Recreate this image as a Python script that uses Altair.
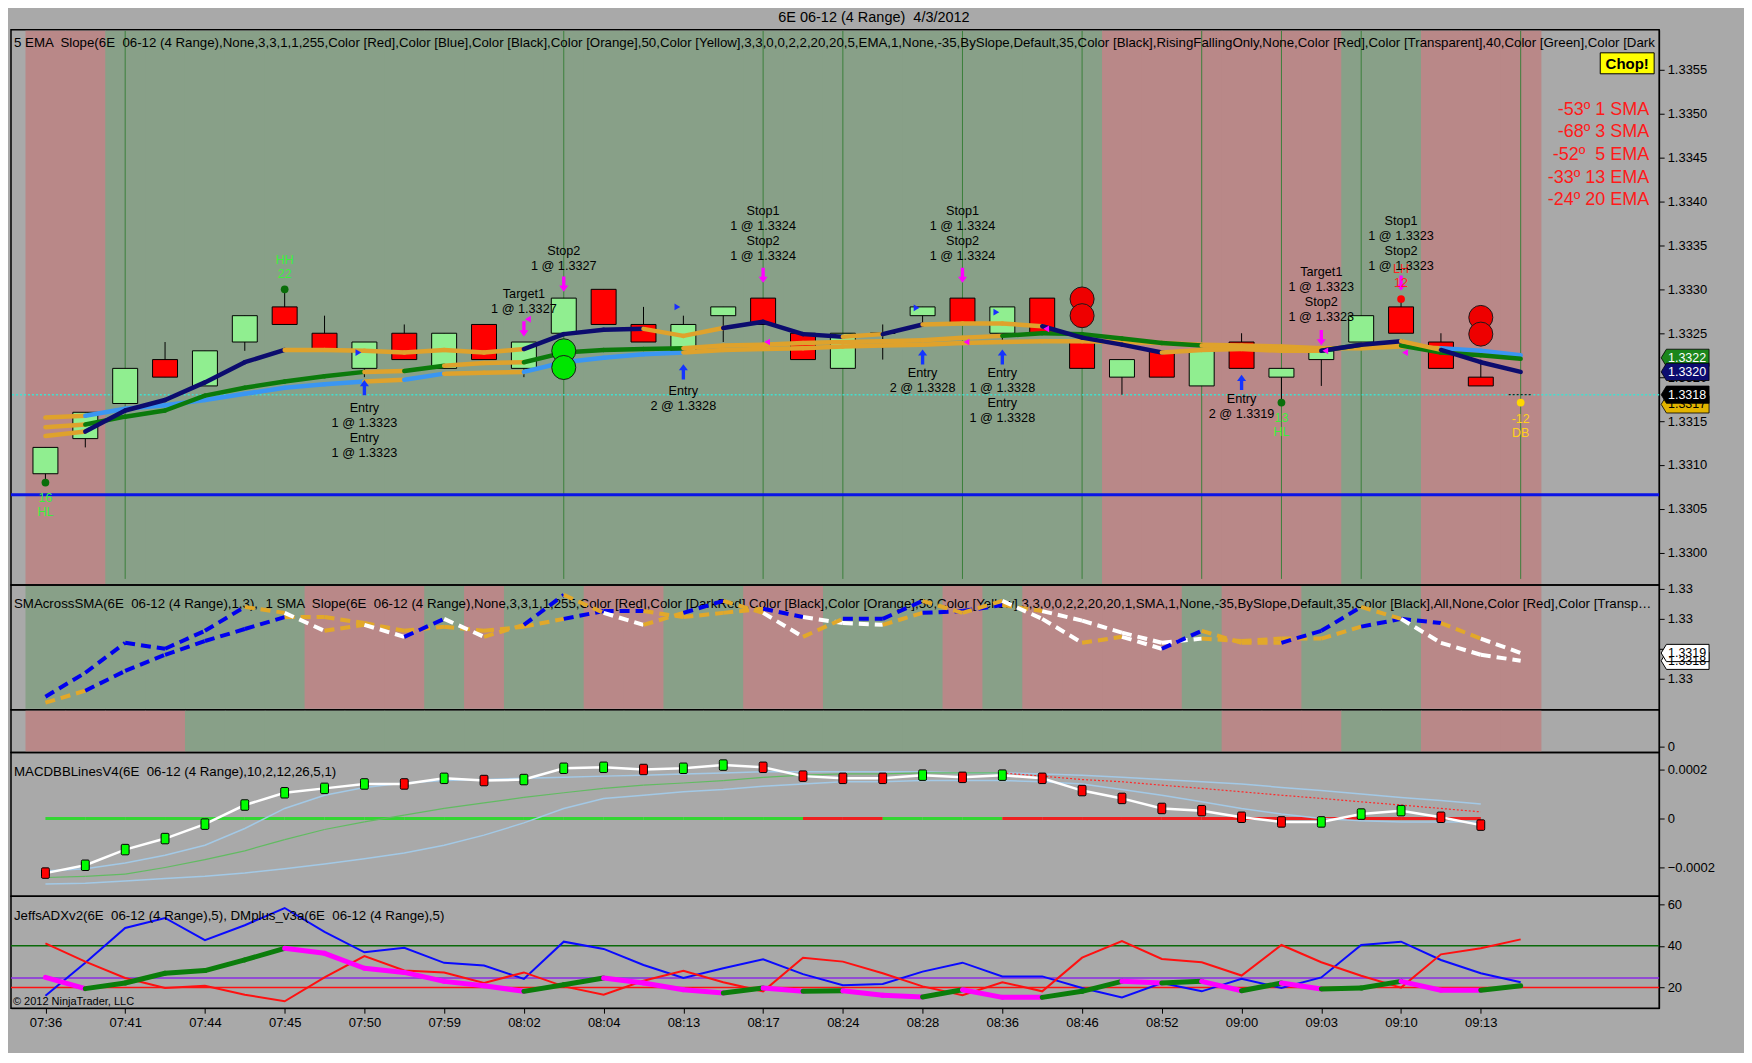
import altair as alt
import pandas as pd

FONT = "Liberation Sans"
NB = "\u00a0"


def keep_spaces(s):
    return s.replace("  ", " " + NB)


TITLE = "6E 06-12 (4 Range)  4/3/2012"

TIME_LABELS = ["07:36", "07:41", "07:44", "07:45", "07:50", "07:59", "08:02", "08:04",
               "08:13", "08:17", "08:24", "08:28", "08:36", "08:46", "08:52", "09:00",
               "09:03", "09:10", "09:13"]

# panel captions, as far as they are visible inside the panels
HEADER_PRICE = ("5 EMA  Slope(6E  06-12 (4 Range),None,3,3,1,1,255,Color [Red],Color [Blue],Color [Black],"
                "Color [Orange],50,Color [Yellow],3,3,0,0,2,2,20,20,5,EMA,1,None,-35,BySlope,Default,35,"
                "Color [Black],RisingFallingOnly,None,Color [Red],Color [Transparent],40,Color [Green],Color [Dark")
HEADER_SMA = ("SMAcrossSMA(6E  06-12 (4 Range),1,3),  1 SMA  Slope(6E  06-12 (4 Range),None,3,3,1,1,255,"
              "Color [Red],Color [DarkRed],Color [Black],Color [Orange],50,Color [Yellow],3,3,0,0,2,2,20,20,1,SMA,1,"
              "None,-35,BySlope,Default,35,Color [Black],All,None,Color [Red],Color [Transparent")
HEADER_MACD = "MACDBBLinesV4(6E  06-12 (4 Range),10,2,12,26,5,1)"
HEADER_ADX = "JeffsADXv2(6E  06-12 (4 Range),5), DMplus_v3a(6E  06-12 (4 Range),5)"
COPYRIGHT = "© 2012 NinjaTrader, LLC"

# ---------------- price candles (bars 0..36) ----------------
OPEN = [1.3309, 1.3313, 1.3317, 1.3322, 1.3319, 1.3324, 1.3328, 1.3325, 1.3321, 1.3325,
        1.3321, 1.3326, 1.3321, 1.3325, 1.3330, 1.3326, 1.3323, 1.3327, 1.3329, 1.3325,
        1.3321, 1.3325, 1.3327, 1.3329, 1.3325, 1.3329, 1.3324, 1.3320, 1.3323, 1.3319,
        1.3324, 1.3320, 1.3322, 1.3324, 1.3328, 1.3324, 1.3320]
HIGH = [1.3312, 1.3316, 1.3321, 1.3324, 1.3323, 1.3327, 1.3330, 1.3327, 1.3324, 1.3326,
        1.3325, 1.3326, 1.3324, 1.3329, 1.3330, 1.3328, 1.3327, 1.3328, 1.3329, 1.3325,
        1.3325, 1.3326, 1.3328, 1.3329, 1.3328, 1.3329, 1.3324, 1.3322, 1.3323, 1.3323,
        1.3325, 1.3321, 1.3323, 1.3327, 1.3329, 1.3325, 1.3322]
LOW = [1.3308, 1.3312, 1.3317, 1.3320, 1.3319, 1.3323, 1.3326, 1.3323, 1.3320, 1.3322,
       1.3321, 1.3322, 1.3320, 1.3325, 1.3326, 1.3324, 1.3323, 1.3324, 1.3326, 1.3322,
       1.3321, 1.3322, 1.3326, 1.3326, 1.3324, 1.3325, 1.3321, 1.3318, 1.3320, 1.3319,
       1.3321, 1.3317, 1.3319, 1.3324, 1.3325, 1.3321, 1.3319]
CLOSE = [1.3312, 1.3316, 1.3321, 1.3320, 1.3323, 1.3327, 1.3326, 1.3323, 1.3324, 1.3322,
         1.3325, 1.3322, 1.3324, 1.3329, 1.3326, 1.3324, 1.3326, 1.3328, 1.3326, 1.3322,
         1.3325, 1.3325, 1.3328, 1.3326, 1.3328, 1.3325, 1.3321, 1.3322, 1.3320, 1.3323,
         1.3321, 1.3321, 1.3323, 1.3327, 1.3325, 1.3321, 1.3319]
LAST_BAR = 37
LAST_PRICE = 1.3318
BLUE_LEVEL = 1.33066

# moving averages on price panel (bars 0..37) with per-segment slope state
EMA5 = [1.33133, 1.33138, 1.33162, 1.33174, 1.33194, 1.33217, 1.33231, 1.33231, 1.33230, 1.33228,
        1.33231, 1.33228, 1.33232, 1.33249, 1.33254, 1.33255, 1.33247, 1.33256, 1.33263, 1.33249,
        1.33246, 1.33249, 1.33260, 1.33261, 1.33261, 1.33258, 1.33245, 1.33237, 1.33228, 1.33231,
        1.33232, 1.33230, 1.33230, 1.33237, 1.33241, 1.33231, 1.33217, 1.33206]
EMA5_STATE = "onnnnnoooooonnnoonnnonooonnnoooonnonn"
EMA13 = [1.33143, 1.33146, 1.33155, 1.33162, 1.33179, 1.33188, 1.33195, 1.33201, 1.33206, 1.33207,
         1.33213, 1.33216, 1.33217, 1.33228, 1.33231, 1.33232, 1.33233, 1.33236, 1.33237, 1.33239,
         1.33240, 1.33241, 1.33242, 1.33245, 1.33247, 1.33250, 1.33249, 1.33244, 1.33239, 1.33236,
         1.33235, 1.33232, 1.33230, 1.33237, 1.33236, 1.33228, 1.33225, 1.33221]
EMA13_STATE = "o" + "ggggggg" + "o" + "g" + "oo" + "gggg" + "oooooooo" + "ggggg" + "ooo" + "g" + "o" + "ggg"
EMA20 = [1.33154, 1.33156, 1.33164, 1.33168, 1.33174, 1.33181, 1.33188, 1.33192, 1.33195, 1.33197,
         1.33204, 1.33205, 1.33206, 1.33217, 1.33222, 1.33226, 1.33228, 1.33231, 1.33232, 1.33233,
         1.33235, 1.33236, 1.33237, 1.33239, 1.33240, 1.33241, 1.33241, 1.33240, 1.33239, 1.33237,
         1.33236, 1.33235, 1.33233, 1.33233, 1.33235, 1.33233, 1.33230, 1.33225]
EMA20_STATE = "o" + "bbbbbbb" + "o" + "b" + "oo" + "bbbb" + "o" * 19 + "bb"

BAND_PRICE = "RR" + "G" * 25 + "R" * 6 + "GG" + "RRR"
BAND_SMA = "GGGGGGG" + "RRR" + "G" + "R" + "GG" + "RR" + "GG" + "RR" + "GGG" + "R" + "G" + "RRRR" + "G" + "RR" + "GGG" + "RRR"
BAND_CROSS = "RRRR" + "G" * 26 + "RRR" + "GG" + "RRR"
VLINE_BARS = [2, 13, 18, 20, 23, 26, 29, 31, 33, 37]

# trade annotations: (bar, price of top line, text)
TRADE_NOTES = [
    (8, 1.33172, "Entry\n1 @ 1.3323\nEntry\n1 @ 1.3323"),
    (12, 1.33302, "Target1\n1 @ 1.3327"),
    (13, 1.33351, "Stop2\n1 @ 1.3327"),
    (16, 1.33191, "Entry\n2 @ 1.3328"),
    (18, 1.33396, "Stop1\n1 @ 1.3324\nStop2\n1 @ 1.3324"),
    (22, 1.33212, "Entry\n2 @ 1.3328"),
    (23, 1.33396, "Stop1\n1 @ 1.3324\nStop2\n1 @ 1.3324"),
    (24, 1.33212, "Entry\n1 @ 1.3328\nEntry\n1 @ 1.3328"),
    (30, 1.33182, "Entry\n2 @ 1.3319"),
    (32, 1.33326, "Target1\n1 @ 1.3323\nStop2\n1 @ 1.3323"),
    (34, 1.33385, "Stop1\n1 @ 1.3323\nStop2\n1 @ 1.3323"),
]
ENTRY_ARROWS = [(8, 1.33188), (16, 1.33206), (22, 1.33223), (24, 1.33223), (30, 1.33194)]
EXIT_ARROWS = [(12, 1.33255), (13, 1.33306), (18, 1.33316), (23, 1.33316), (32, 1.33245), (34, 1.33307)]
ENTRY_TICKS = [(8, 1.33228), (16, 1.33280), (22, 1.33279), (24, 1.33274)]
EXIT_TICKS = [(12, 1.33266), (18, 1.33240), (23, 1.33240), (25, 1.33255), (32, 1.33230), (34, 1.33228)]
SWING_DOTS = [(0, 1.33080, "hl"), (6, 1.33300, "hh"), (31, 1.33171, "hl"), (34, 1.33289, "lh"), (37, 1.33171, "db")]
SWING_TEXT = [(0, 1.33069, "16\nHL", "hl"), (6, 1.33340, "HH\n22", "hh"), (31, 1.33160, "13\nHL", "hl"),
              (34, 1.33330, "LH\n12", "lh"), (37, 1.33159, "-12\nDB", "db")]
BIG_DOTS = [(13, 1.33230, "up"), (13, 1.33211, "up"), (26, 1.33289, "dn"), (26, 1.33270, "dn"),
            (36, 1.33268, "dn"), (36, 1.33249, "dn")]
ANGLE_TEXT = "-53º 1 SMA\n-68º 3 SMA\n-52º  5 EMA\n-33º 13 EMA\n-24º 20 EMA"
PRICE_MARKERS = [(1.33169, "1.3317", "#e2b400", "black"), (1.33222, "1.3322", "#1b861b", "white"),
                 (1.33206, "1.3320", "#0c0c70", "white"), (1.33180, "1.3318", "#000000", "white")]

# ---------------- SMA cross panel ----------------
SMA1 = [1.3312, 1.3316, 1.3321, 1.3320, 1.3323, 1.3327, 1.3326, 1.3323, 1.3324, 1.3322,
        1.3325, 1.3322, 1.3324, 1.3329, 1.3326, 1.3324, 1.3326, 1.3328, 1.3326, 1.3322,
        1.3325, 1.3325, 1.3328, 1.3326, 1.3328, 1.3325, 1.3321, 1.3322, 1.3320, 1.3323,
        1.3321, 1.3321, 1.3323, 1.3327, 1.3325, 1.3321, 1.3319, 1.3318]
SMA1_STATE = "bbbbbowowbwobowobowobboowwowboobbowww"
SMA3 = [1.33110, 1.33130, 1.33163, 1.33190, 1.33213, 1.33233, 1.33253, 1.33253, 1.33243, 1.33230,
        1.33237, 1.33230, 1.33237, 1.33250, 1.33263, 1.33263, 1.33253, 1.33260, 1.33267, 1.33253,
        1.33243, 1.33240, 1.33260, 1.33263, 1.33273, 1.33263, 1.33247, 1.33227, 1.33210, 1.33217,
        1.33213, 1.33217, 1.33217, 1.33237, 1.33250, 1.33243, 1.33217, 1.33193]
SMA3_STATE = "obbbbbooooooobbooobwwobbowwwwoooobboww"[:37]
SMA_MARKERS = [(1.33180, "1.3318"), (1.33193, "1.3319")]

# ---------------- MACD panel (bars 0..36) ----------------
MACD = [-0.000223, -0.000191, -0.000127, -0.000082, -0.000023, 0.000055, 0.000105, 0.000123, 0.000141, 0.000141,
        0.000164, 0.000155, 0.000159, 0.000205, 0.000209, 0.000200, 0.000205, 0.000218, 0.000209, 0.000173,
        0.000164, 0.000164, 0.000177, 0.000168, 0.000177, 0.000164, 0.000114, 0.000082, 0.000041, 0.000032,
        0.000005, -0.000014, -0.000014, 0.000018, 0.000032, 0.000005, -0.000027]
MACD_DOT = "rgggggggg" + "rgrggg" + "rggrrrr" + "grgrrrrrrr" + "gggrr"
BB_UPPER = [-0.000214, -0.000205, -0.000182, -0.000150, -0.000109, -0.000041, 0.000041, 0.000095, 0.000127, 0.000145,
            0.000155, 0.000159, 0.000164, 0.000168, 0.000173, 0.000177, 0.000182, 0.000186, 0.000191, 0.000191,
            0.000191, 0.000191, 0.000191, 0.000186, 0.000186, 0.000182, 0.000177, 0.000168, 0.000159, 0.000150,
            0.000141, 0.000127, 0.000114, 0.000100, 0.000086, 0.000073, 0.000059]
BB_LOWER = [-0.000268, -0.000264, -0.000255, -0.000245, -0.000236, -0.000223, -0.000205, -0.000186, -0.000164, -0.000141,
            -0.000109, -0.000068, -0.000018, 0.000041, 0.000082, 0.000095, 0.000109, 0.000118, 0.000132, 0.000141,
            0.000150, 0.000150, 0.000155, 0.000155, 0.000155, 0.000150, 0.000141, 0.000118, 0.000095, 0.000068,
            0.000041, 0.000018, 0.000000, -0.000009, -0.000014, -0.000014, -0.000014]
SIGNAL = [-0.000241, -0.000236, -0.000227, -0.000200, -0.000168, -0.000132, -0.000086, -0.000045, -0.000014, 0.000014,
          0.000041, 0.000064, 0.000086, 0.000105, 0.000123, 0.000136, 0.000145, 0.000155, 0.000168, 0.000177,
          0.000182, 0.000182, 0.000186, 0.000186, 0.000186, 0.000173, 0.000159, 0.000150, 0.000136, 0.000123,
          0.000109, 0.000095, 0.000082, 0.000068, 0.000055, 0.000041, 0.000027]
SIGNAL_STATE = "g" * 24 + "r" * 12
ZERO_STATE = "g" * 19 + "rr" + "ggg" + "r" * 12

# ---------------- ADX panel (bars 0..37) ----------------
ADX_BLUE = [16.0, 31.9, 48.6, 53.4, 42.7, 49.9, 58.2, 46.7, 36.9, 39.1, 31.8, 30.5, 24.1, 42.0, 38.5, 30.8,
            24.5, 29.2, 33.5, 26.4, 21.0, 21.6, 27.6, 31.9, 25.3, 25.3, 19.7, 15.2, 22.1, 18.1, 24.1, 19.7,
            24.8, 40.4, 42.0, 33.2, 26.8, 22.5]
ADX_RED = [41.2, 32.4, 24.5, 19.7, 20.8, 16.5, 13.3, 24.8, 35.1, 28.1, 27.2, 22.1, 27.2, 20.5, 16.5, 23.2,
           28.0, 22.5, 18.1, 34.3, 32.4, 26.8, 20.5, 16.2, 22.5, 18.1, 34.3, 42.3, 33.7, 32.1, 25.7, 40.4,
           32.1, 25.6, 19.9, 35.9, 38.8, 43.1]
DMPLUS = [24.8, 19.4, 22.1, 26.8, 28.1, 33.2, 38.8, 36.4, 29.2, 27.2, 22.9, 20.8, 18.1, 21.3, 24.5, 22.1,
          18.9, 17.3, 19.7, 18.1, 18.4, 16.2, 15.4, 18.9, 15.2, 15.2, 18.1, 22.9, 22.1, 22.9, 18.4, 22.1,
          19.2, 19.7, 22.9, 18.6, 18.6, 20.8]
DMPLUS_STATE = "mgggggmmmmmmggmmmgmgmmgmmggmgmgmggmmg"
ADX_LEVELS = [(40, "#0a6a0a"), (24.5, "#8a2be2"), (20, "#ff1010")]

# ---------------- layout ----------------
W = 1651
H1, H2, H3, H4, H5 = 556, 125, 43, 144, 112
XDOM = [-0.8638, 40.473]
D1 = [1.329634, 1.335955]
D2 = [1.330983, 1.333067]
D3 = [-0.163, 1.0]
D4 = [-0.000318, 0.000269]
D5 = [10.0, 63.8]

BAND_COL = {"R": "#b98888", "G": "#88a088"}
MA_COL = {"o": "#dfa22c", "n": "#0c0c6e", "g": "#0b7a0b", "b": "#3a96f2"}
SMA_COL = {"b": "#0000ee", "w": "#ffffff", "o": "#e2a82a"}
DM_COL = {"m": "#ff00ff", "g": "#0b7d0b"}
SWING_COL = {"hl": "#3cf03c", "hh": "#3cf03c", "lh": "#ff2020", "db": "#ffd21a"}
SWING_DOT_COL = {"hl": "#0a6e0a", "hh": "#0a6e0a", "lh": "#ff0000", "db": "#ffd700"}

xs = alt.Scale(domain=XDOM, nice=False, zero=False, padding=0)
XAXIS = alt.Axis(orient="bottom", values=list(range(0, 37, 2)),
                 labelExpr="[" + ",".join("'%s'" % t for t in TIME_LABELS) + "][round(datum.value/2)]",
                 tickSize=5, tickColor="black", domainColor="black", labelColor="black", labelFont=FONT,
                 labelFontSize=13, labelPadding=3, grid=False, title=None, labelFlush=False, labelOverlap=False)


def yaxis(values, fmt=None, expr=None):
    kw = dict(orient="right", values=values, tickSize=5, tickColor="black", domainColor="black",
              labelColor="black", labelFont=FONT, labelFontSize=13, labelPadding=3, grid=False, title=None,
              labelFlush=False, labelOverlap=False, zindex=0)
    if fmt:
        kw["format"] = fmt
    if expr:
        kw["labelExpr"] = expr
    return alt.Axis(**kw)


AX1 = yaxis([round(1.3300 + 0.0005 * i, 4) for i in range(12)], fmt=".4f")
AX2 = yaxis([1.3315, 1.3320, 1.3325, 1.3330], fmt=".2f")
AX3 = yaxis([0], fmt="d")
AX4 = yaxis([-0.0002, 0, 0.0002], expr="datum.value == 0 ? '0' : format(datum.value, '.4f')")
AX5 = yaxis([20, 40, 60], fmt="d")


def mkX(field="bar", axis=None):
    return alt.X(f"{field}:Q", scale=xs, axis=axis)


def mkY(field, dom, ax):
    return alt.Y(f"{field}:Q", scale=alt.Scale(domain=dom, nice=False, zero=False, padding=0), axis=ax)


def band_layer(states, h):
    df = pd.DataFrame({"bar": list(range(len(states))), "col": [BAND_COL[s] for s in states]})
    return alt.Chart(df).transform_calculate(x0="datum.bar - 0.5", x1="datum.bar + 0.52").mark_rect(
        strokeWidth=0).encode(x=mkX("x0"), x2="x1:Q", y=alt.value(1), y2=alt.value(h - 1),
                              color=alt.Color("col:N", scale=None))


def seg_frame(values, states, cmap, name):
    rows = []
    for i, s in enumerate(states):
        for j in (i, i + 1):
            rows.append({"bar": j, "v": values[j], "seg": f"{name}{i:02d}", "col": cmap[s], "st": s})
    return pd.DataFrame(rows)


def header(text, y):
    return alt.Chart(pd.DataFrame({"t": [keep_spaces(text)]})).mark_text(
        align="left", baseline="middle", font=FONT, fontSize=13.3, color="black", clip=True,
        limit=W - 4, ellipsis="").encode(text="t:N", x=alt.value(3), y=alt.value(y))


ARROW_UP = "M0,-1L0.6,-0.2L0.22,-0.2L0.22,1L-0.22,1L-0.22,-0.2L-0.6,-0.2Z"
ARROW_DN = "M0,1L0.6,0.2L0.22,0.2L0.22,-1L-0.22,-1L-0.22,0.2L-0.6,0.2Z"
FLAG = "M-1,0L-0.78,-0.36L1,-0.36L1,0.36L-0.78,0.36Z"
PILL = "M-0.55,-1L0.55,-1Q0.75,-1 0.75,-0.7L0.75,0.7Q0.75,1 0.55,1L-0.55,1Q-0.75,1 -0.75,0.7L-0.75,-0.7Q-0.75,-1 -0.55,-1Z"

# ======== Panel 1: price ========
Y1 = lambda f: mkY(f, D1, AX1)
cdf = pd.DataFrame({"bar": list(range(len(OPEN))), "o": OPEN, "h": HIGH, "l": LOW, "c": CLOSE})
cdf["col"] = ["#90ee90" if c >= o else "#ff0000" for o, c in zip(OPEN, CLOSE)]

p1_layers = [band_layer(BAND_PRICE, H1)]
p1_layers.append(alt.Chart(pd.DataFrame({"bar": VLINE_BARS})).mark_rule(color="#3b7f3b", strokeWidth=1).encode(
    x=mkX(), y=alt.value(1), y2=alt.value(H1 - 6)))
p1_layers.append(alt.Chart(pd.DataFrame({"p": [BLUE_LEVEL]})).mark_rule(color="#0a14e6", strokeWidth=3).encode(
    y=Y1("p")))
p1_layers.append(alt.Chart(pd.DataFrame({"p": [LAST_PRICE]})).mark_rule(
    color="#40e0d0", strokeWidth=1.5, strokeDash=[2, 2]).encode(y=Y1("p")))
p1_layers.append(header(HEADER_PRICE, 13))
p1_layers.append(alt.Chart(cdf).mark_rule(color="black", strokeWidth=1).encode(x=mkX(), y=Y1("l"), y2="h:Q"))
p1_layers.append(alt.Chart(cdf).mark_bar(width=25, stroke="black", strokeWidth=1).encode(
    x=mkX(), y=Y1("o"), y2="c:Q", color=alt.Color("col:N", scale=None)))
p1_layers.append(alt.Chart(pd.DataFrame({"bar": [LAST_BAR], "p": [LAST_PRICE]})).transform_calculate(
    x0="datum.bar - 0.3", x1="datum.bar + 0.3").mark_rule(color="black", strokeWidth=1, strokeDash=[2, 2]).encode(
    x=mkX("x0"), x2="x1:Q", y=Y1("p")))
for vals, st, nm in [(EMA20, EMA20_STATE, "b"), (EMA13, EMA13_STATE, "g"), (EMA5, EMA5_STATE, "n")]:
    p1_layers.append(alt.Chart(seg_frame(vals, st, MA_COL, nm)).mark_line(strokeWidth=4.5, strokeCap="round").encode(
        x=mkX(), y=Y1("v"), detail="seg:N", color=alt.Color("col:N", scale=None)))
bdf = pd.DataFrame(BIG_DOTS, columns=["bar", "p", "k"])
bdf["col"] = ["#00e600" if k == "up" else "#ee0000" for k in bdf["k"]]
p1_layers.append(alt.Chart(bdf).mark_point(shape="circle", filled=True, size=580, opacity=1, stroke="#1a1a1a",
                                           strokeWidth=1).encode(x=mkX(), y=Y1("p"),
                                                                 color=alt.Color("col:N", scale=None)))
p1_layers.append(alt.Chart(pd.DataFrame(ENTRY_ARROWS, columns=["bar", "p"])).mark_point(
    shape=ARROW_UP, filled=True, size=230, color="#1434ff", opacity=1).encode(x=mkX(), y=Y1("p")))
p1_layers.append(alt.Chart(pd.DataFrame(EXIT_ARROWS, columns=["bar", "p"])).mark_point(
    shape=ARROW_DN, filled=True, size=230, color="#ff00ff", opacity=1).encode(x=mkX(), y=Y1("p")))
p1_layers.append(alt.Chart(pd.DataFrame(ENTRY_TICKS, columns=["bar", "p"])).mark_point(
    shape="triangle-right", filled=True, size=45, color="#1a2cff", opacity=1, xOffset=-6).encode(x=mkX(), y=Y1("p")))
p1_layers.append(alt.Chart(pd.DataFrame(EXIT_TICKS, columns=["bar", "p"])).mark_point(
    shape="triangle-left", filled=True, size=45, color="#ff00ff", opacity=1, xOffset=4).encode(x=mkX(), y=Y1("p")))
sdf = pd.DataFrame(SWING_DOTS, columns=["bar", "p", "k"])
sdf["col"] = [SWING_DOT_COL[k] for k in sdf["k"]]
p1_layers.append(alt.Chart(sdf).mark_point(shape="circle", filled=True, size=60, opacity=1).encode(
    x=mkX(), y=Y1("p"), color=alt.Color("col:N", scale=None)))
stdf = pd.DataFrame(SWING_TEXT, columns=["bar", "p", "t", "k"])
stdf["col"] = [SWING_COL[k] for k in stdf["k"]]
p1_layers.append(alt.Chart(stdf).mark_text(font=FONT, fontSize=12.5, baseline="top", align="center",
                                           lineBreak="\n", lineHeight=14).encode(
    x=mkX(), y=Y1("p"), text="t:N", color=alt.Color("col:N", scale=None)))
p1_layers.append(alt.Chart(pd.DataFrame(TRADE_NOTES, columns=["bar", "p", "t"])).mark_text(
    font=FONT, fontSize=12.7, baseline="top", align="center", lineBreak="\n", lineHeight=15, color="black").encode(
    x=mkX(), y=Y1("p"), text="t:N"))
p1_layers.append(alt.Chart(pd.DataFrame({"t": [keep_spaces(ANGLE_TEXT)]})).mark_text(
    font=FONT, fontSize=18, baseline="top", align="right", lineBreak="\n", lineHeight=22.7, color="#ff1a1a").encode(
    text="t:N", x=alt.value(W - 10), y=alt.value(71)))
p1_layers.append(alt.Chart(pd.DataFrame({"t": ["Chop!"]})).mark_rect(fill="#ffff00", stroke="black",
                                                                      strokeWidth=1).encode(
    x=alt.value(W - 59), x2=alt.value(W - 5), y=alt.value(23), y2=alt.value(44)))
p1_layers.append(alt.Chart(pd.DataFrame({"t": ["Chop!"]})).mark_text(
    font=FONT, fontSize=15, fontWeight="bold", color="black", baseline="middle", align="center").encode(
    text="t:N", x=alt.value(W - 32), y=alt.value(34)))
mdf = pd.DataFrame(PRICE_MARKERS, columns=["p", "t", "fill", "tc"])
p1_layers.append(alt.Chart(mdf).mark_point(shape=FLAG, filled=True, size=2304, opacity=1, stroke="black",
                                           strokeWidth=0.8).encode(
    x=alt.value(W + 26), y=Y1("p"), color=alt.Color("fill:N", scale=None)))
p1_layers.append(alt.Chart(mdf).mark_text(font=FONT, fontSize=12.5, baseline="middle", align="center").encode(
    x=alt.value(W + 28), y=Y1("p"), text="t:N", color=alt.Color("tc:N", scale=None)))
panel1 = alt.layer(*p1_layers).properties(width=W, height=H1)

# ======== Panel 2: SMA cross ========
Y2 = lambda f: mkY(f, D2, AX2)
p2_layers = [band_layer(BAND_SMA, H2), header(HEADER_SMA, 19)]
for vals, st, nm in [(SMA3, SMA3_STATE, "s3"), (SMA1, SMA1_STATE, "s1")]:
    p2_layers.append(alt.Chart(seg_frame(vals, st, SMA_COL, nm)).mark_line(
        strokeWidth=4, strokeDash=[10, 6], strokeCap="butt").encode(
        x=mkX(), y=Y2("v"), detail="seg:N", color=alt.Color("col:N", scale=None)))
smdf = pd.DataFrame(SMA_MARKERS, columns=["p", "t"])
p2_layers.append(alt.Chart(smdf).mark_point(shape=FLAG, filled=True, size=2304, opacity=1, color="white",
                                            stroke="black", strokeWidth=1).encode(x=alt.value(W + 26), y=Y2("p")))
p2_layers.append(alt.Chart(smdf).mark_text(font=FONT, fontSize=12.5, baseline="middle", align="center",
                                           color="black").encode(x=alt.value(W + 28), y=Y2("p"), text="t:N"))
panel2 = alt.layer(*p2_layers).properties(width=W, height=H2)

# ======== Panel 3: cross state ========
Y3 = lambda f: mkY(f, D3, AX3)
p3_layers = [band_layer(BAND_CROSS, H3),
             alt.Chart(pd.DataFrame({"bar": [0], "v": [0]})).mark_point(opacity=0).encode(x=mkX(), y=Y3("v"))]
panel3 = alt.layer(*p3_layers).properties(width=W, height=H3)

# ======== Panel 4: MACD ========
Y4 = lambda f: mkY(f, D4, AX4)
zdf = seg_frame([0.0] * 37, ZERO_STATE, {"g": "#33d633", "r": "#ee2020"}, "z")
sig = seg_frame(SIGNAL, SIGNAL_STATE, {"g": "#62bb62", "r": "#ff2a2a"}, "sg")
bbdf = pd.concat([pd.DataFrame({"bar": list(range(37)), "v": BB_UPPER, "k": "u"}),
                  pd.DataFrame({"bar": list(range(37)), "v": BB_LOWER, "k": "l"})])
macd_df = pd.DataFrame({"bar": list(range(37)), "v": MACD,
                        "col": ["#00ff00" if s == "g" else "#ff0000" for s in MACD_DOT]})
p4_layers = [
    alt.Chart(zdf).mark_line(strokeWidth=3).encode(x=mkX(), y=Y4("v"), detail="seg:N",
                                                   color=alt.Color("col:N", scale=None)),
    alt.Chart(bbdf).mark_line(strokeWidth=1.5, color="#a3c9e6").encode(x=mkX(), y=Y4("v"), detail="k:N"),
    alt.Chart(sig).transform_filter("datum.st == 'g'").mark_line(strokeWidth=1.2).encode(
        x=mkX(), y=Y4("v"), detail="seg:N", color=alt.Color("col:N", scale=None)),
    alt.Chart(sig).transform_filter("datum.st == 'r'").mark_line(strokeWidth=1.2, strokeDash=[2, 2]).encode(
        x=mkX(), y=Y4("v"), detail="seg:N", color=alt.Color("col:N", scale=None)),
    alt.Chart(macd_df).mark_line(strokeWidth=2.5, color="white").encode(x=mkX(), y=Y4("v")),
    alt.Chart(macd_df).mark_point(shape=PILL, filled=True, size=110, opacity=1, stroke="black",
                                  strokeWidth=1).encode(x=mkX(), y=Y4("v"), color=alt.Color("col:N", scale=None)),
    header(HEADER_MACD, 19),
]
panel4 = alt.layer(*p4_layers).properties(width=W, height=H4)

# ======== Panel 5: ADX ========
Y5 = lambda f: mkY(f, D5, AX5)
lv = pd.DataFrame(ADX_LEVELS, columns=["v", "col"])
adx = pd.DataFrame({"bar": list(range(38)), "blue": ADX_BLUE, "red": ADX_RED})
dm = seg_frame(DMPLUS, DMPLUS_STATE, DM_COL, "dm")
p5_layers = [
    alt.Chart(lv).mark_rule(strokeWidth=1.5).encode(y=Y5("v"), color=alt.Color("col:N", scale=None)),
    alt.Chart(adx).mark_line(strokeWidth=2, color="#0a0aff").encode(x=mkX("bar", XAXIS), y=Y5("blue")),
    alt.Chart(adx).mark_line(strokeWidth=2, color="#ff1010").encode(x=mkX("bar", XAXIS), y=Y5("red")),
    alt.Chart(dm).mark_line(strokeWidth=5, strokeCap="round").encode(
        x=mkX("bar", XAXIS), y=Y5("v"), detail="seg:N", color=alt.Color("col:N", scale=None)),
    header(HEADER_ADX, 20),
    alt.Chart(pd.DataFrame({"t": [COPYRIGHT]})).mark_text(
        align="left", baseline="middle", font=FONT, fontSize=11, color="black").encode(
        text="t:N", x=alt.value(2), y=alt.value(106)),
]
panel5 = alt.layer(*p5_layers).properties(width=W, height=H5)

chart = alt.vconcat(panel1, panel2, panel3, panel4, panel5, spacing=0, bounds="flush").resolve_scale(
    x="shared", y="independent").resolve_axis(x="independent", y="independent").properties(
    title=alt.TitleParams(keep_spaces(TITLE), anchor="middle", fontSize=14.5, font=FONT, fontWeight="normal",
                          color="black", offset=4, dx=12)
).configure(background="#a9a9a9", padding={"left": 0, "top": 0, "right": 28, "bottom": 22}).configure_view(
    stroke="black", strokeWidth=1.5)

chart.save("out.html", embed_options={"renderer": "svg", "actions": False})
